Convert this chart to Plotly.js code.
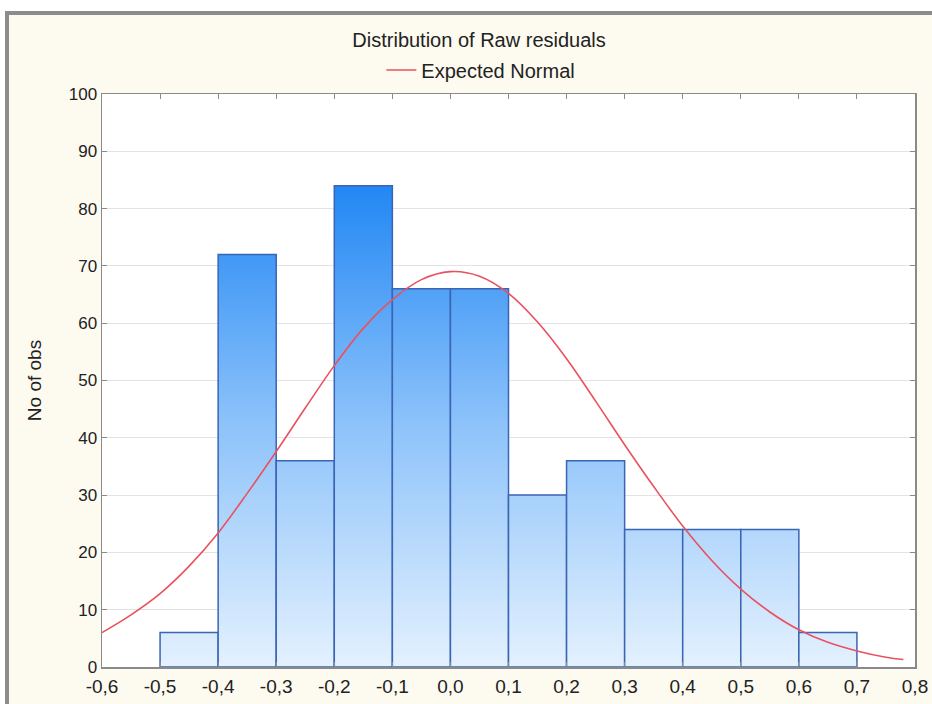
<!DOCTYPE html>
<html>
<head>
<meta charset="utf-8">
<script src="https://cdn.plot.ly/plotly-3.0.1.min.js"></script>
<style>
  html, body { margin: 0; padding: 0; background: #ffffff; }
  #wrap { position: relative; width: 932px; height: 704px; overflow: hidden; }
  #chart { position: absolute; left: 0; top: 0; width: 932px; height: 704px; }
  .ov { position: absolute; pointer-events: none; }
</style>
</head>
<body>
<div id="wrap">
  <div id="chart"></div>
  <div class="ov" style="left:0;top:0;width:932px;height:11px;background:#ffffff;"></div>
  <div class="ov" style="left:0;top:0;width:5px;height:704px;background:#ffffff;"></div>
  <div class="ov" style="left:5px;top:11px;width:927px;height:4px;background:#8c8c8c;"></div>
  <div class="ov" style="left:5px;top:11px;width:4px;height:693px;background:#8c8c8c;"></div>
</div>
<script>
// Histogram bins (lower edge, upper edge) and counts
const binStart = [-0.5, -0.4, -0.3, -0.2, -0.1, 0.0, 0.1, 0.2, 0.3, 0.4, 0.5, 0.6];
const binEnd   = [-0.4, -0.3, -0.2, -0.1, 0.0, 0.1, 0.2, 0.3, 0.4, 0.5, 0.6, 0.7];
const counts   = [6, 72, 36, 84, 66, 66, 30, 36, 24, 24, 24, 6];

// Expected normal curve
const normX = [-0.6, -0.55, -0.5, -0.45, -0.4, -0.35, -0.3, -0.25, -0.2, -0.15, -0.1, -0.05,
               0.0, 0.05, 0.1, 0.15, 0.2, 0.25, 0.3, 0.35, 0.4, 0.45, 0.5, 0.55, 0.6, 0.65,
               0.7, 0.75, 0.78];
const normY = [6.0, 9.1, 12.8, 17.6, 23.4, 30.3, 37.6, 45.2, 52.6, 59.1, 64.1, 67.6,
               69.0, 68.2, 65.2, 60.2, 53.8, 46.4, 38.8, 31.5, 24.6, 18.6, 13.6, 9.6, 6.5, 4.3,
               2.8, 1.7, 1.3];

// Tick labels
const xTickVals = [-0.6, -0.5, -0.4, -0.3, -0.2, -0.1, 0.0, 0.1, 0.2, 0.3, 0.4, 0.5, 0.6, 0.7, 0.8];
const xTickText = ["-0,6", "-0,5", "-0,4", "-0,3", "-0,2", "-0,1", "0,0", "0,1", "0,2", "0,3", "0,4", "0,5", "0,6", "0,7", "0,8"];
const yTickVals = [0, 10, 20, 30, 40, 50, 60, 70, 80, 90, 100];

const titleText = "Distribution of Raw residuals";
const legendName = "Expected Normal";
const yTitle = "No of obs";

const FONT = "Liberation Sans, Arial, sans-serif";
const maxCount = Math.max(...counts);

const traces = [];
for (let i = 0; i < counts.length; i++) {
  traces.push({
    type: "scatter",
    mode: "lines",
    x: [binStart[i], binStart[i], binEnd[i], binEnd[i], binStart[i]],
    y: [0, counts[i], counts[i], 0, 0],
    fill: "toself",
    fillgradient: {
      type: "vertical",
      colorscale: [[0, "#e4f1fe"], [0.5, "#8ec3fa"], [1, "#2287f4"]],
      start: 0,
      stop: maxCount
    },
    line: { color: "#3a64b4", width: 1.5 },
    showlegend: false,
    hoverinfo: "skip"
  });
}
traces.push({
  type: "scatter",
  mode: "lines",
  x: normX,
  y: normY,
  name: legendName,
  line: { color: "#e8525e", width: 1.6, shape: "spline" },
  showlegend: true
});

const layout = {
  width: 932,
  height: 704,
  paper_bgcolor: "#fdfaf0",
  plot_bgcolor: "#ffffff",
  margin: { l: 102, r: 17, t: 94, b: 37 },
  font: { family: FONT, size: 18, color: "#222222" },
  title: {
    text: titleText,
    font: { family: FONT, size: 20, color: "#222222" },
    x: 0.514, xref: "container", xanchor: "center",
    y: 1 - 40 / 704, yref: "container", yanchor: "middle"
  },
  showlegend: true,
  legend: {
    orientation: "h",
    x: 0.466, xanchor: "center",
    y: 1.042, yanchor: "middle",
    bgcolor: "rgba(0,0,0,0)",
    font: { family: FONT, size: 20, color: "#222222" }
  },
  xaxis: {
    range: [-0.6, 0.8],
    tickvals: xTickVals,
    ticktext: xTickText,
    showgrid: false,
    zeroline: false,
    showline: true,
    linecolor: "#8a8a8a",
    linewidth: 1.5,
    mirror: "ticks",
    ticks: "inside",
    ticklen: 5,
    tickcolor: "#8a8a8a",
    ticklabelstandoff: 2,
    tickfont: { family: FONT, size: 19, color: "#222222" }
  },
  yaxis: {
    range: [0, 100],
    tickvals: yTickVals,
    showgrid: true,
    gridcolor: "#e3e3e3",
    gridwidth: 1,
    zeroline: false,
    showline: true,
    linecolor: "#8a8a8a",
    linewidth: 1.5,
    mirror: "ticks",
    ticks: "inside",
    ticklen: 5,
    tickcolor: "#8a8a8a",
    tickfont: { family: FONT, size: 17, color: "#222222" },
    title: { text: yTitle, font: { family: FONT, size: 19, color: "#222222" }, standoff: 22 }
  }
};

Plotly.newPlot("chart", traces, layout, { displayModeBar: false, staticPlot: true });
</script>
</body>
</html>
